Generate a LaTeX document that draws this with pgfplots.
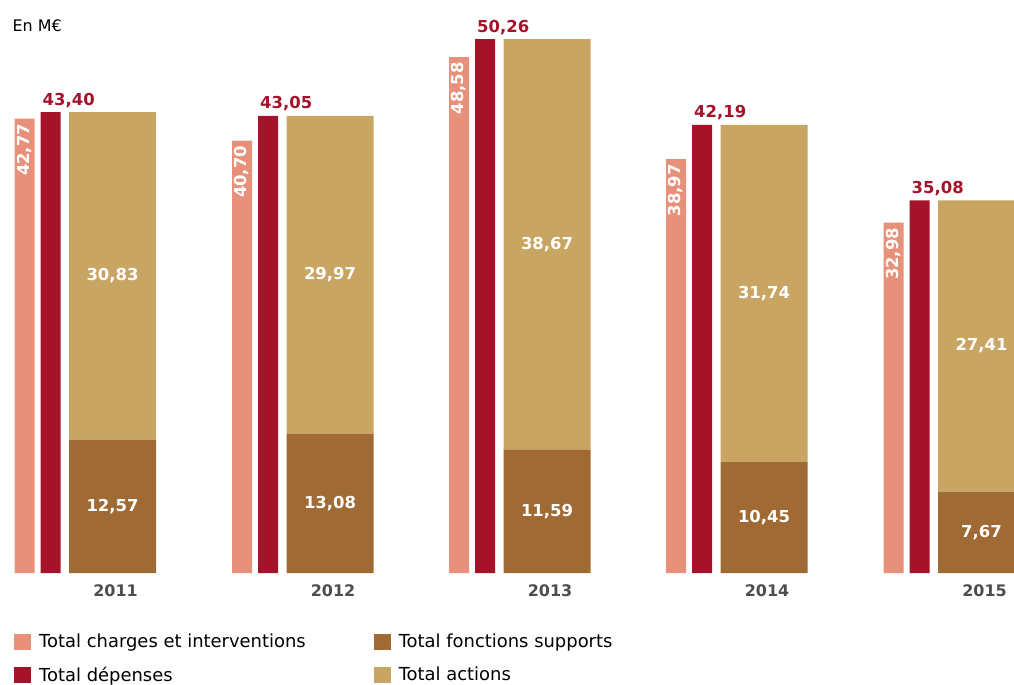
\documentclass[border=0pt]{standalone}
\usepackage{pgfplots}
\usepackage{pgfplotstable}
\pgfplotsset{compat=1.18}
\usepackage{fontspec}
\setmainfont{DejaVu Sans}

\definecolor{charges}{HTML}{E8917A}
\definecolor{depenses}{HTML}{A5132A}
\definecolor{supports}{HTML}{A06A34}
\definecolor{actions}{HTML}{C8A562}
\definecolor{yeargray}{HTML}{4D4D4D}

\newcommand{\lab}{\fontsize{16.5}{19}\selectfont}
\newcommand{\leg}{\fontsize{18}{21}\selectfont}

% x = centre of the wide bar, in pixels of the 1014x684 picture
\pgfplotstableread{
x      charges depenses supports actions
112.5  42.77   43.40    12.57    30.83
330    40.70   43.05    13.08    29.97
547    48.58   50.26    11.59    38.67
764    38.97   42.19    10.45    31.74
981.5  32.98   35.08    7.67     27.41
}\data

\pgfplotsset{
  base/.style={
    width=1014bp, height=684bp, scale only axis,
    xmin=0, xmax=1014, ymin=-10.45, ymax=53.95,
    axis line style={draw=none}, tick style={draw=none},
    xtick=\empty, ytick=\empty,
    /pgf/number format/.cd, use comma, fixed, fixed zerofill, precision=2,
      assume math mode=true,
  },
}

\begin{document}
\begin{tikzpicture}

\begin{axis}[base, name=ax, ybar, bar width=20,
  xtick={112.5,330,547,764,981.5},
  xticklabels={\textbf{2011},\textbf{2012},\textbf{2013},\textbf{2014},\textbf{2015}},
  xticklabel style={anchor=base, xshift=3bp, yshift=92bp, text=yeargray, font=\fontsize{16}{18}\selectfont},
  legend columns=2,
  legend cell align=left,
  legend image code/.code={\fill[#1, draw=none] (0bp,-8bp) rectangle (17bp,8bp);},
  legend style={draw=none, fill=none, inner sep=0pt, font=\leg,
    at={(axis cs:14,-5.7)}, anchor=north west, row sep=17bp,
    nodes={inner sep=0pt},
    /tikz/every odd column/.append style={column sep=8bp},
    /tikz/every even column/.append style={column sep=68bp}},
]
\addlegendimage{fill=charges}
\addlegendentry{Total charges et interventions}
\addlegendimage{fill=supports}
\addlegendentry{Total fonctions supports}
\addlegendimage{fill=depenses}
\addlegendentry{Total dépenses}
\addlegendimage{fill=actions}
\addlegendentry{Total actions}

\addplot[fill=charges, draw=none, bar shift=-88, forget plot,
  nodes near coords,
  every node near coord/.append style={rotate=90, anchor=east, text=white,
    font=\bfseries\lab, inner sep=5bp}]
  table[x=x, y=charges]{\data};

\addplot[fill=depenses, draw=none, bar shift=-62, forget plot,
  nodes near coords,
  every node near coord/.append style={anchor=base west, xshift=-9bp, yshift=7bp,
    text=depenses, font=\bfseries\lab, inner sep=1bp}]
  table[x=x, y=depenses]{\data};

\node[anchor=base west, font=\fontsize{16}{19}\selectfont] at (rel axis cs:0,1) [xshift=9bp, yshift=-32bp] {En M€};
\end{axis}

\begin{axis}[base, ybar stacked, bar width=87,
  nodes near coords, point meta=rawy,
  every node near coord/.append style={anchor=center, text=white, font=\bfseries\lab},
]
\addplot[fill=supports, draw=none] table[x=x, y=supports]{\data};
\addplot[fill=actions, draw=none] table[x=x, y=actions]{\data};
\end{axis}

\pgfresetboundingbox
\path (ax.south west) rectangle (ax.north east);
\end{tikzpicture}
\end{document}
